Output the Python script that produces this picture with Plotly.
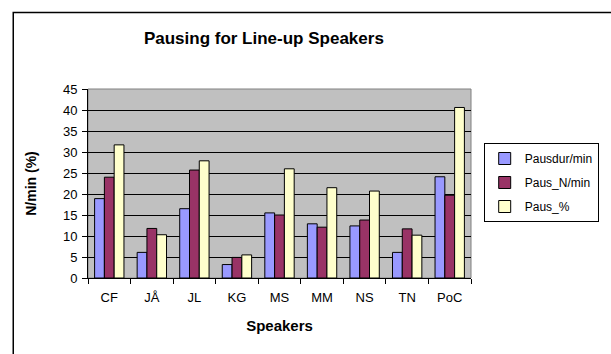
import plotly.graph_objects as go

speakers = ["CF", "JÅ", "JL", "KG", "MS", "MM", "NS", "TN", "PoC"]
pausdur_min = [18.9, 6.1, 16.5, 3.2, 15.5, 12.9, 12.4, 6.1, 24.1]
paus_n_min = [24.0, 11.8, 25.7, 4.9, 15.0, 12.1, 13.8, 11.7, 19.7]
paus_pct = [31.7, 10.3, 27.9, 5.5, 26.0, 21.5, 20.7, 10.2, 40.6]

series = [
    ("Pausdur/min", pausdur_min, "#9999FF"),
    ("Paus_N/min", paus_n_min, "#993366"),
    ("Paus_%", paus_pct, "#FFFFCC"),
]

W, H = 611, 354
L, R, T, B = 88, 480, 89, 278  # plot area in pixels

fig = go.Figure()
for name, vals, col in series:
    fig.add_trace(go.Bar(
        x=speakers, y=vals, name=name, legendgroup=name,
        marker=dict(color=col, line=dict(color="black", width=1)),
    ))

pw, ph = R - L, B - T
def px(x):
    return (x - L) / pw
def py(y):
    return (B - y) / ph

fig.update_layout(
    width=W, height=H,
    margin=dict(l=L, r=W - R, t=T, b=H - B, pad=0),
    paper_bgcolor="white",
    plot_bgcolor="#C0C0C0",
    barmode="group", bargap=0.31, bargroupgap=0,
    font=dict(family="Arial, Liberation Sans, sans-serif", size=12, color="black"),
    title=dict(text="<b>Pausing for Line-up Speakers</b>", x=px(268), xref="paper",
               xanchor="center", y=1 - 38 / H, yanchor="middle",
               font=dict(size=17, color="black")),
    showlegend=True,
    legend=dict(x=px(493), y=py(143), xanchor="left", yanchor="top",
                bordercolor="black", borderwidth=1, bgcolor="white",
                font=dict(size=12), traceorder="grouped", tracegroupgap=5,
                itemwidth=30),
    xaxis=dict(
        showline=True, linecolor="black", linewidth=1,
        ticks="outside", tickson="boundaries", ticklen=5, tickcolor="black",
        tickfont=dict(size=13), ticklabelstandoff=7,
        title=dict(text="<b>Speakers</b>", font=dict(size=15), standoff=16),
    ),
    yaxis=dict(
        range=[0, 45], dtick=5, tick0=0,
        showline=True, linecolor="black", linewidth=1,
        ticks="outside", ticklen=5, tickcolor="black",
        showgrid=True, gridcolor="black", gridwidth=1,
        zeroline=False,
        tickfont=dict(size=13), ticklabelstandoff=2,
        title=dict(text="<b>N/min (%)</b>", font=dict(size=14), standoff=23),
    ),
    shapes=[
        # plot area frame
        dict(type="rect", xref="paper", yref="paper", x0=0, y0=0, x1=1, y1=1,
             line=dict(color="#808080", width=1), layer="below"),
        # outer chart frame
        dict(type="rect", xref="paper", yref="paper",
             x0=px(11.5), y0=py(H + 20), x1=px(W + 20), y1=py(12.5),
             line=dict(color="black", width=1.5)),
    ],
)

fig.write_html("out.html")
